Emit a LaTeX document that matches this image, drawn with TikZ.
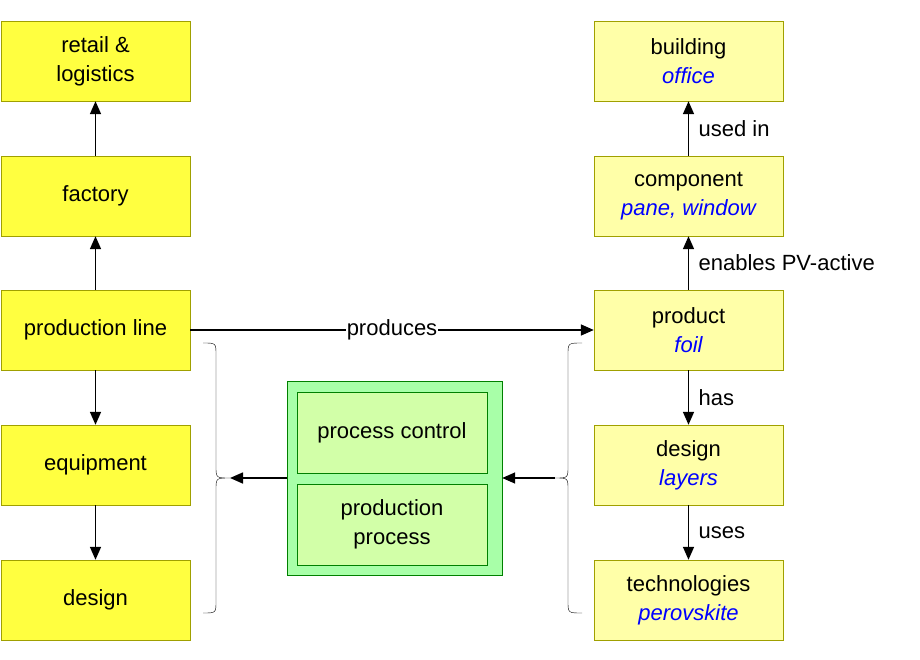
\documentclass[tikz,border=0pt]{standalone}
\usepackage{fontspec}
\setmainfont{Liberation Sans}
\usetikzlibrary{arrows.meta}
\definecolor{ybox}{HTML}{FFFF40}
\definecolor{lybox}{HTML}{FFFFA8}
\definecolor{ybord}{HTML}{A0A000}
\definecolor{gout}{HTML}{A8FFA8}
\definecolor{gin}{HTML}{D2FFA8}
\definecolor{gbord}{HTML}{008000}
\begin{document}
\begin{tikzpicture}[x=1pt,y=-1pt,
  every node/.style={font=\fontsize{22}{29}\selectfont},
  box/.style={draw=ybord,fill=ybox,minimum width=189,minimum height=80,align=center,inner sep=0},
  rbox/.style={box,fill=lybox},
  arr/.style={-{Triangle[length=13,width=11]},line width=1.6},
  lab/.style={anchor=west},
  em/.style={text=blue,font=\fontsize{22}{29}\selectfont\itshape}]
\useasboundingbox (0,0) rectangle (920,660);
\node[box] (rl) at (95.5,61) {retail \&\\logistics};
\node[box] (fa) at (95.5,196) {factory};
\node[box] (pl) at (95.5,330) {production line};
\node[box] (eq) at (95.5,465) {equipment};
\node[box] (de) at (95.5,600) {design};
\node[rbox] (bu) at (688.5,61) {building\\{\itshape\color{blue}office}};
\node[rbox] (co) at (688.5,196) {component\\{\itshape\color{blue}pane, window}};
\node[rbox] (pr) at (688.5,330) {product\\{\itshape\color{blue}foil}};
\node[rbox] (dl) at (688.5,465) {design\\{\itshape\color{blue}layers}};
\node[rbox] (te) at (688.5,600) {technologies\\{\itshape\color{blue}perovskite}};
\node[draw=gbord,fill=gout,minimum width=215,minimum height=194,inner sep=0] (gr) at (394.5,478) {};
\node[draw=gbord,fill=gin,minimum width=190,minimum height=81,inner sep=0,align=center] (pc) at (392,432.5) {process control};
\node[draw=gbord,fill=gin,minimum width=190,minimum height=81,inner sep=0,align=center] (pp) at (392,524.5) {production\\process};
\draw[arr] (pl) -- (fa);
\draw[arr] (fa) -- (rl);
\draw[arr] (pl) -- (eq);
\draw[arr] (eq) -- (de);
\draw[arr] (co) -- node[lab,xshift=6]{used in} (bu);
\draw[arr] (pr) -- node[lab,xshift=6]{enables PV-active} (co);
\draw[arr] (pr) -- node[lab,xshift=6]{has} (dl);
\draw[arr] (dl) -- node[lab,xshift=6]{uses} (te);
\draw[arr] (pl) -- node[fill=white,inner sep=1]{produces} (pr);
\coordinate (lt) at (230,478);
\coordinate (rt) at (555,478);
\draw[thin] (203,343) .. controls (216,343) .. (216,355) -- (216,466) .. controls (216,478) .. (230,478)
  .. controls (216,478) .. (216,490) -- (216,601) .. controls (216,613) .. (203,613);
\draw[thin] (582,343) .. controls (568,343) .. (568,355) -- (568,466) .. controls (568,478) .. (555,478)
  .. controls (568,478) .. (568,490) -- (568,601) .. controls (568,613) .. (582,613);
\draw[arr] (gr.west) -- (lt);
\draw[arr] (rt) -- (gr.east);
\end{tikzpicture}
\end{document}
